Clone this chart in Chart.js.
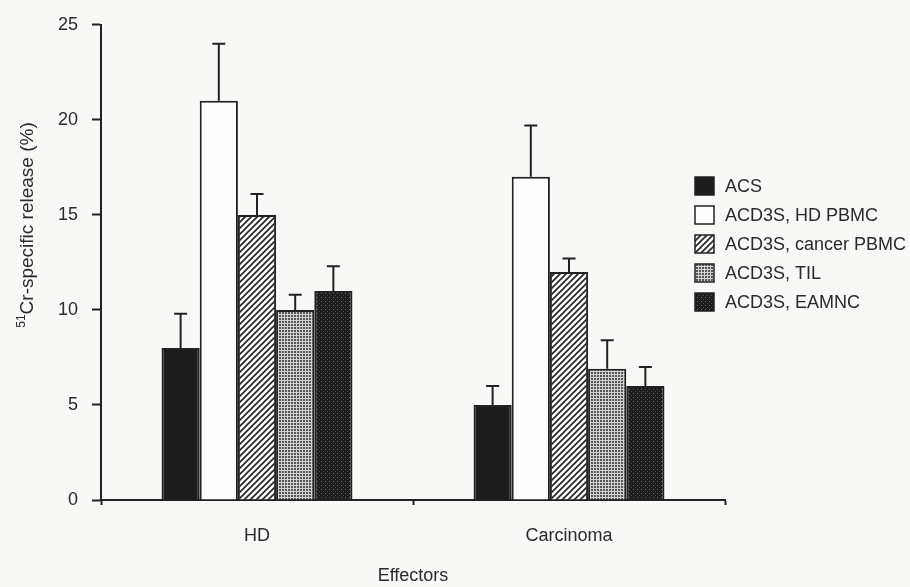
<!DOCTYPE html>
<html>
<head>
<meta charset="utf-8">
<script src="https://cdn.jsdelivr.net/npm/chart.js"></script>
<style>
  body { margin: 0; background: #f8f8f6; }
  #wrap { width: 910px; height: 587px; }
</style>
</head>
<body>
<div id="wrap"><canvas id="chart" width="910" height="587"></canvas></div>
<script>
// data
const groups = ['HD', 'Carcinoma'];
const seriesNames = ['ACS', 'ACD3S, HD PBMC', 'ACD3S, cancer PBMC', 'ACD3S, TIL', 'ACD3S, EAMNC'];
const acs      = [8, 5];
const hdPbmc   = [21, 17];
const cancer   = [15, 12];
const til      = [10, 6.9];
const eamnc    = [11, 6];
// upper error (SD)
const acsErr    = [1.8, 1.0];
const hdPbmcErr = [3.0, 2.7];
const cancerErr = [1.1, 0.7];
const tilErr    = [0.8, 1.5];
const eamncErr  = [1.3, 1.0];
const yTicks = [0, 5, 10, 15, 20, 25];

const ink = '#222';
const font = 'Liberation Sans, Arial, sans-serif';

function tile(w, h, draw) {
  const c = document.createElement('canvas');
  c.width = w; c.height = h;
  draw(c.getContext('2d'));
  return document.getElementById('chart').getContext('2d').createPattern(c, 'repeat');
}
const hatch = tile(6, 6, g => {
  g.fillStyle = '#fbfbfb'; g.fillRect(0, 0, 6, 6);
  g.strokeStyle = '#222'; g.lineWidth = 1.6;
  g.beginPath();
  g.moveTo(-1, 7); g.lineTo(7, -1);
  g.moveTo(-4, 4); g.lineTo(4, -4);
  g.moveTo(2, 10); g.lineTo(10, 2);
  g.stroke();
});
const dots = tile(3, 3, g => {
  g.fillStyle = '#d4d4d4'; g.fillRect(0, 0, 3, 3);
  g.fillStyle = '#555'; g.fillRect(0, 0, 2, 2);
});
const darkDots = tile(4, 4, g => {
  g.fillStyle = '#1c1c1c'; g.fillRect(0, 0, 4, 4);
  g.fillStyle = '#666'; g.fillRect(1, 1, 1, 1);
  g.fillStyle = '#4a4a4a'; g.fillRect(3, 3, 1, 1);
});

const values = [acs, hdPbmc, cancer, til, eamnc];
const errors = [acsErr, hdPbmcErr, cancerErr, tilErr, eamncErr];
const fills = ['#1c1c1c', '#fdfdfd', hatch, dots, darkDots];

const datasets = seriesNames.map((name, i) => ({
  label: name,
  data: values[i],
  err: errors[i],
  backgroundColor: fills[i],
  borderColor: ink,
  borderWidth: 2,
  borderSkipped: 'bottom',
  categoryPercentage: 0.612,
  barPercentage: 1.0
}));

const errorBars = {
  id: 'errorBars',
  afterDatasetsDraw(chart) {
    const ctx = chart.ctx, y = chart.scales.y;
    ctx.save();
    ctx.strokeStyle = ink; ctx.lineWidth = 2;
    chart.data.datasets.forEach((ds, i) => {
      chart.getDatasetMeta(i).data.forEach((bar, j) => {
        const top = y.getPixelForValue(ds.data[j] + ds.err[j]);
        ctx.beginPath();
        ctx.moveTo(bar.x, bar.y);
        ctx.lineTo(bar.x, top);
        ctx.moveTo(bar.x - 6.5, top);
        ctx.lineTo(bar.x + 6.5, top);
        ctx.stroke();
      });
    });
    ctx.restore();
  }
};

const sideText = {
  id: 'sideText',
  afterDraw(chart) {
    const ctx = chart.ctx;
    ctx.save();
    // y title with superscript
    ctx.translate(27, 225);
    ctx.rotate(-Math.PI / 2);
    ctx.fillStyle = '#2a2a2a';
    ctx.textBaseline = 'middle';
    const main = 'Cr-specific release (%)';
    ctx.font = '19px ' + font;
    const wMain = ctx.measureText(main).width;
    ctx.font = '12px ' + font;
    const wSup = ctx.measureText('51').width;
    const x0 = -(wMain + wSup) / 2;
    ctx.fillText('51', x0, -5);
    ctx.font = '19px ' + font;
    ctx.fillText(main, x0 + wSup, 1);
    ctx.restore();

    // legend
    ctx.save();
    ctx.font = '18px ' + font;
    ctx.textBaseline = 'middle';
    chart.data.datasets.forEach((ds, i) => {
      const cy = 186 + i * 29;
      ctx.fillStyle = ds.backgroundColor;
      ctx.fillRect(695, cy - 9, 19, 18);
      ctx.strokeStyle = ink; ctx.lineWidth = 1.5;
      ctx.strokeRect(695, cy - 9, 19, 18);
      ctx.fillStyle = '#2a2a2a';
      ctx.fillText(ds.label, 725, cy + 1);
    });
    ctx.restore();
  }
};

new Chart(document.getElementById('chart'), {
  type: 'bar',
  data: { labels: groups, datasets },
  options: {
    responsive: false,
    animation: false,
    devicePixelRatio: 1,
    layout: { padding: { top: 22, right: 185, bottom: 0, left: 0 } },
    plugins: { legend: { display: false }, tooltip: { enabled: false } },
    scales: {
      x: {
        afterFit: s => { s.height = 87; },
        grid: { display: true, drawOnChartArea: false, offset: true, tickLength: 5, tickColor: ink, tickWidth: 2 },
        border: { color: ink, width: 2 },
        ticks: { color: '#2a2a2a', font: { family: font, size: 18 }, padding: 20 },
        title: { display: true, text: 'Effectors', color: '#2a2a2a', font: { family: font, size: 18 }, padding: { top: 0, bottom: 0 } }
      },
      y: {
        min: 0, max: 25,
        afterFit: s => { s.width = 101; },
        afterBuildTicks: s => { s.ticks = yTicks.map(v => ({ value: v })); },
        grid: { display: true, drawOnChartArea: false, tickLength: 9, tickColor: ink, tickWidth: 2 },
        border: { color: ink, width: 2 },
        ticks: { color: '#2a2a2a', font: { family: font, size: 18 }, padding: 14 }
      }
    }
  },
  plugins: [errorBars, sideText]
});
</script>
</body>
</html>
